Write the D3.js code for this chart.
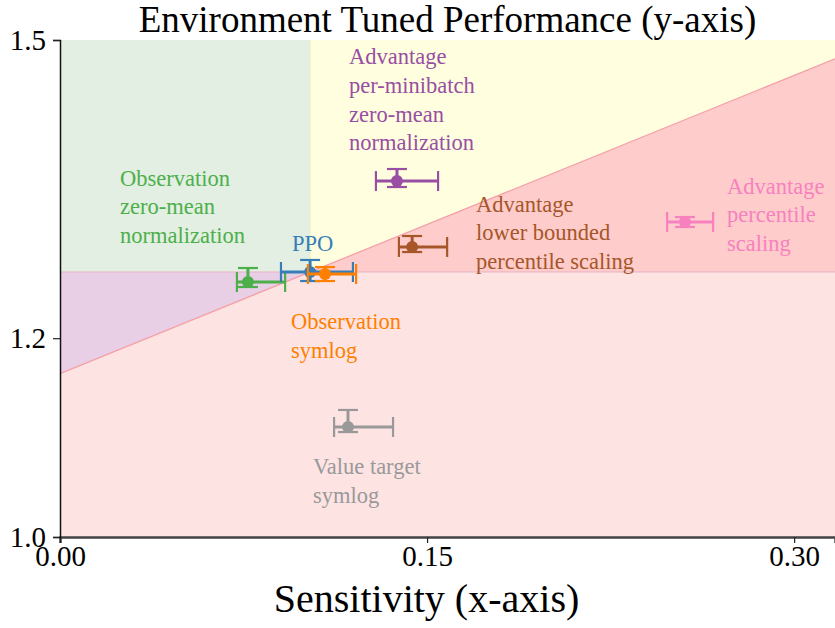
<!DOCTYPE html>
<html>
<head>
<meta charset="utf-8">
<script src="https://cdn.jsdelivr.net/npm/d3@7"></script>
<style>
  body { margin: 0; background: #fff; }
  svg text, svg tspan { font-family: "Liberation Serif", "DejaVu Serif", serif; }
</style>
</head>
<body>
<script>
// data
const names = ['Observation zero-mean normalization', 'PPO', 'Observation symlog',
  'Advantage per-minibatch zero-mean normalization', 'Advantage lower bounded percentile scaling',
  'Advantage percentile scaling', 'Value target symlog']
const xs = [0.0768, 0.1022, 0.1083, 0.1377, 0.1439, 0.2554, 0.1177]
const xLow = [0.0723, 0.0903, 0.1013, 0.1291, 0.1385, 0.2481, 0.1120]
const xHigh = [0.0920, 0.1197, 0.1210, 0.1545, 0.1582, 0.2669, 0.1361]
const ys = [1.2565, 1.2666, 1.2646, 1.3581, 1.2918, 1.3169, 1.1107]
const yLow = [1.2515, 1.2575, 1.2575, 1.3521, 1.2867, 1.3119, 1.1056]
const yHigh = [1.2706, 1.2787, 1.2716, 1.3702, 1.3028, 1.3219, 1.1278]
const colors = ['#4daf4a', '#377eb8', '#ff7f00', '#984ea3', '#a65628', '#f781bf', '#999999']
const labelLines = [
  ['Observation', 'zero-mean', 'normalization'],
  ['PPO'],
  ['Observation', 'symlog'],
  ['Advantage', 'per-minibatch', 'zero-mean', 'normalization'],
  ['Advantage', 'lower bounded', 'percentile scaling'],
  ['Advantage', 'percentile', 'scaling'],
  ['Value target', 'symlog']
]
const xTicks = [0.0, 0.15, 0.30]
const yTicks = [1.0, 1.2, 1.5]
const xDomain = [0, 0.3167]
const yDomain = [1.0, 1.5]
const tradeoffSlope = 1.0 // diagonal boundary through PPO

// label anchors (data space of first baseline)
const labelAnchor = [[0.0245, 1.3535], [0.0948, 1.2878], [0.0944, 1.2092], [0.1181, 1.4758], [0.1700, 1.3274], [0.2726, 1.3455], [0.1034, 1.0634]]

const serif = '"Liberation Serif", "Times New Roman", serif'
const width = 835
const height = 628
const margin = { top: 40, right: 0, bottom: 91, left: 60 }

const svg = d3.select('body').append('svg')
  .attr('width', width)
  .attr('height', height)

const x = d3.scaleLinear().domain(xDomain).range([margin.left, width - margin.right])
const y = d3.scaleLinear().domain(yDomain).range([height - margin.bottom, margin.top])

const ppoX = xs[1]
const ppoY = ys[1]
const lineY = (v) => ppoY + (v - ppoX) * tradeoffSlope

const x0 = xDomain[0]
const x1 = xDomain[1]
const y0 = yDomain[0]
const y1 = yDomain[1]

const regions = [
  { color: '#fee3e3', pts: [[x0, y0], [x1, y0], [x1, ppoY], [ppoX, ppoY], [x0, lineY(x0)]] },
  { color: '#e8cfe6', pts: [[x0, lineY(x0)], [ppoX, ppoY], [x0, ppoY]] },
  { color: '#e2efe2', pts: [[x0, ppoY], [ppoX, ppoY], [ppoX, y1], [x0, y1]] },
  { color: '#ffffe0', pts: [[ppoX, ppoY], [x1, lineY(x1)], [x1, y1], [ppoX, y1]] },
  { color: '#ffcccc', pts: [[ppoX, ppoY], [x1, ppoY], [x1, lineY(x1)]] }
]

const area = svg.append('g')
regions.forEach(r => {
  area.append('path')
    .attr('d', d3.line().x(d => x(d[0])).y(d => y(d[1]))(r.pts) + 'Z')
    .attr('fill', r.color)
})

// boundaries
area.append('line')
  .attr('x1', x(x0)).attr('y1', y(ppoY)).attr('x2', x(x1)).attr('y2', y(ppoY))
  .attr('stroke', '#e6b4c4').attr('stroke-width', 1)
area.append('line')
  .attr('x1', x(ppoX)).attr('y1', y(ppoY)).attr('x2', x(ppoX)).attr('y2', y(y1))
  .attr('stroke', '#e4f0c8').attr('stroke-width', 1)
area.append('line')
  .attr('x1', x(x0)).attr('y1', y(lineY(x0))).attr('x2', x(x1)).attr('y2', y(lineY(x1)))
  .attr('stroke', '#f4a0a8').attr('stroke-width', 1.3)

// points with error bars
const capHalf = 10
const pts = svg.append('g')
d3.range(xs.length).forEach(i => {
  const g = pts.append('g').attr('stroke', colors[i]).attr('stroke-width', 2.2)
  const px = x(xs[i])
  const py = y(ys[i])
  g.append('line').attr('x1', x(xLow[i])).attr('x2', x(xHigh[i])).attr('y1', py).attr('y2', py).attr('stroke-width', 3)
  g.append('line').attr('x1', x(xLow[i])).attr('x2', x(xLow[i])).attr('y1', py - capHalf).attr('y2', py + capHalf)
  g.append('line').attr('x1', x(xHigh[i])).attr('x2', x(xHigh[i])).attr('y1', py - capHalf).attr('y2', py + capHalf)
  g.append('line').attr('x1', px).attr('x2', px).attr('y1', y(yLow[i])).attr('y2', y(yHigh[i])).attr('stroke-width', 3)
  g.append('line').attr('x1', px - capHalf).attr('x2', px + capHalf).attr('y1', y(yLow[i])).attr('y2', y(yLow[i]))
  g.append('line').attr('x1', px - capHalf).attr('x2', px + capHalf).attr('y1', y(yHigh[i])).attr('y2', y(yHigh[i]))
  pts.append('circle').attr('cx', px).attr('cy', py).attr('r', 6).attr('fill', colors[i])
})

// labels
const labels = svg.append('g').style('font-family', serif)
labelLines.forEach((lines, i) => {
  const t = labels.append('text')
    .attr('x', x(labelAnchor[i][0]))
    .attr('y', y(labelAnchor[i][1]))
    .attr('fill', colors[i])
    .attr('font-size', 22.5)
    .style('font-family', serif)
  lines.forEach((l, j) => {
    t.append('tspan')
      .attr('x', x(labelAnchor[i][0]))
      .attr('dy', j === 0 ? 0 : 28.8)
      .style('font-family', serif)
      .text(l)
  })
})

// axes
const xAxis = svg.append('g')
  .attr('transform', 'translate(0,' + (height - margin.bottom) + ')')
  .call(d3.axisBottom(x).tickValues(xTicks).tickFormat(d3.format('.2f')).tickSizeOuter(0).tickSize(6).tickPadding(2))
const yAxis = svg.append('g')
  .attr('transform', 'translate(' + margin.left + ',0)')
  .call(d3.axisLeft(y).tickValues(yTicks).tickFormat(d3.format('.1f')).tickSizeOuter(0).tickSize(7).tickPadding(7))

;[xAxis, yAxis].forEach(a => {
  a.select('.domain').attr('stroke', '#111').attr('stroke-width', 1.5)
  a.selectAll('.tick line').attr('stroke', '#222').attr('stroke-width', 1.2)
  a.selectAll('.tick text').style('font-family', serif).attr('font-size', 29).attr('fill', '#000')
})
xAxis.select('.domain').attr('stroke', '#444').attr('stroke-width', 2.5)

svg.append('text')
  .attr('x', (margin.left + width) / 2)
  .attr('y', 32)
  .attr('text-anchor', 'middle')
  .attr('font-size', 37)
  .style('font-family', serif)
  .text('Environment Tuned Performance (y-axis)')

svg.append('text')
  .attr('x', (margin.left + width) / 2 - 21)
  .attr('y', 612)
  .attr('text-anchor', 'middle')
  .attr('font-size', 40)
  .style('font-family', serif)
  .text('Sensitivity (x-axis)')
</script>
</body>
</html>
